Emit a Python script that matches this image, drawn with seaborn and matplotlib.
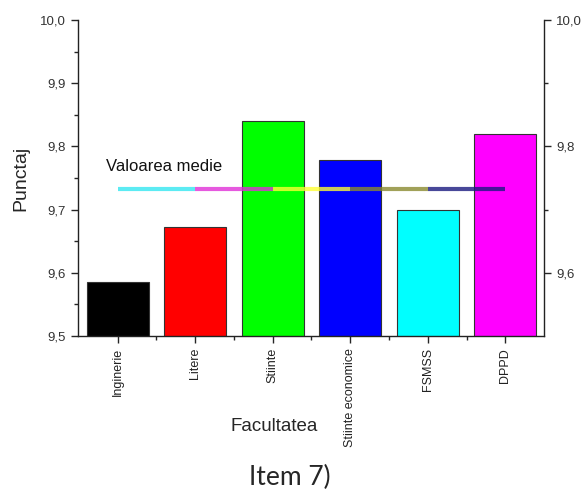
import matplotlib
matplotlib.use("Agg")
import matplotlib.pyplot as plt
import seaborn as sns
import pandas as pd
from matplotlib.ticker import MultipleLocator, FuncFormatter

# data
facultati = ["Inginerie", "Litere", "Stiinte", "Stiinte economice", "FSMSS", "DPPD"]
punctaj = [9.586, 9.673, 9.84, 9.778, 9.70, 9.82]
culori = ["#000000", "#ff0000", "#00ff00", "#0000ff", "#00ffff", "#ff00ff"]
medie = 9.733
culori_medie = ["#33e6f0", "#e030d8", "#ffff33", "#8a8a30", "#1a1a80"]

df = pd.DataFrame({"Facultatea": facultati, "Punctaj": punctaj})

sns.set_style("ticks")
plt.rcParams["font.family"] = ["Liberation Sans", "DejaVu Sans"]

fig = plt.figure(figsize=(5.85, 4.96), dpi=100)
ax = fig.add_axes([0.1333, 0.3226, 0.797, 0.6371])

sns.barplot(data=df, x="Facultatea", y="Punctaj", hue="Facultatea",
            palette=culori, legend=False, width=0.8, saturation=1,
            edgecolor="#333333", linewidth=0.8, ax=ax)

# mean line, one colour per segment
for i, c in enumerate(culori_medie):
    ax.plot([i, i + 1], [medie, medie], color=c, lw=3, alpha=0.8,
            solid_capstyle="butt")
ax.text(-0.15, medie + 0.023, "Valoarea medie", fontsize=12, color="#111111",
        va="bottom", ha="left")

ax.set_xlim(-0.51, 5.5)
ax.set_ylim(9.5, 10.0)
fmt = FuncFormatter(lambda v, p: f"{v:.1f}".replace(".", ","))

ax.yaxis.set_major_locator(MultipleLocator(0.1))
ax.yaxis.set_minor_locator(MultipleLocator(0.05))
ax.yaxis.set_major_formatter(fmt)
ax.tick_params(axis="y", which="major", length=5, width=1, labelsize=9.5,
               labelcolor="#333333")
ax.tick_params(axis="y", which="minor", length=3, width=1)

ax.set_xticks(range(len(facultati)))
ax.set_xticklabels(facultati, rotation=90, fontsize=9, color="#222222")
ax.set_xticks([i + 0.5 for i in range(len(facultati) - 1)], minor=True)
ax.tick_params(axis="x", which="major", length=5, width=1)
ax.tick_params(axis="x", which="minor", length=3, width=1)

ax.set_ylabel("Punctaj", fontsize=14, labelpad=8)
ax.set_xlabel("Facultatea", fontsize=13.5)
ax.xaxis.set_label_coords(0.42, -0.26)

ax.spines["top"].set_visible(False)
ax.spines["right"].set_visible(False)
for s in ["left", "bottom"]:
    ax.spines[s].set_linewidth(1)
    ax.spines[s].set_color("#222222")

ax2 = ax.twinx()
ax2.set_ylim(9.5, 10.0)
ax2.set_yticks([9.6, 9.8, 10.0])
ax2.set_yticks([9.7, 9.9], minor=True)
ax2.yaxis.set_major_formatter(fmt)
ax2.tick_params(axis="y", which="major", length=5, width=1, labelsize=9.5,
                labelcolor="#333333")
ax2.tick_params(axis="y", which="minor", length=3, width=1)
for s in ["top", "left", "bottom"]:
    ax2.spines[s].set_visible(False)
ax2.spines["right"].set_linewidth(1)
ax2.spines["right"].set_color("#222222")

fig.text(0.496, 0.012, "Item 7)", fontsize=19, family=["Lato", "DejaVu Sans"],
         ha="center", va="bottom")

fig.savefig("out.png", dpi=100)
